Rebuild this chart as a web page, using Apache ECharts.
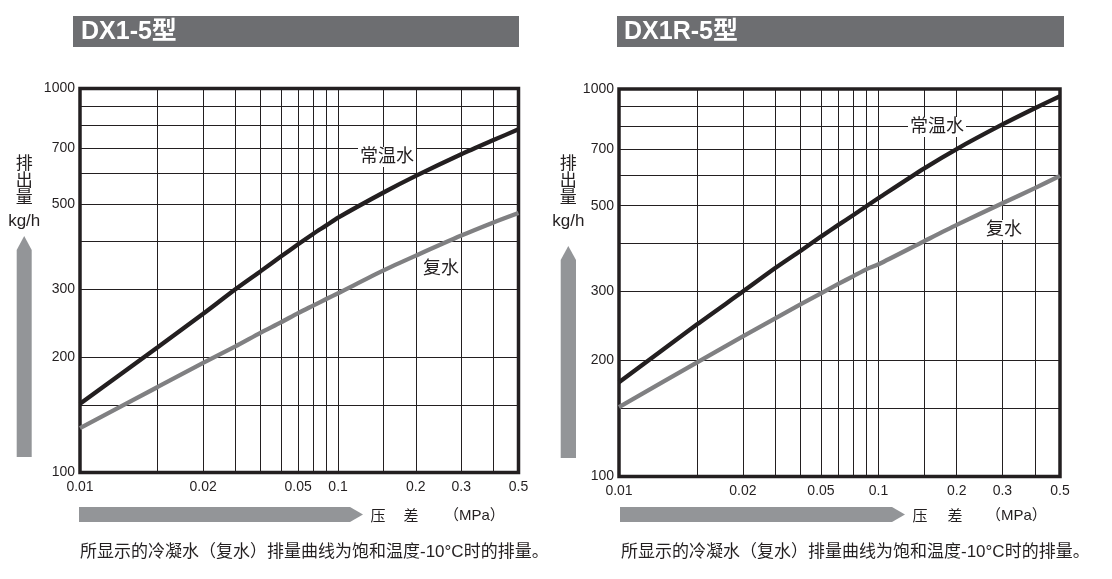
<!DOCTYPE html>
<html>
<head>
<meta charset="utf-8">
<script src="https://cdn.jsdelivr.net/npm/echarts@6/dist/echarts.min.js"></script>
<style>
html,body{margin:0;padding:0;background:#fff;}
#chart{width:1112px;height:579px;}
</style>
</head>
<body>
<div id="chart"></div>
<script>
// ---------- data ----------
const pressure = [0.01,0.02,0.03,0.04,0.05,0.06,0.07,0.08,0.09,0.1,0.15,0.2,0.3,0.4,0.5];
const dx1Normal      = [151,212,259,300,334,365,393,418,440,461,536,592,674,734,783];
const dx1Condensate  = [130.5,167,193,213,231,246,260,272,283,293,336,367,414,448,474];
const dx1rNormal     = [175,247,300,345,382,416,446,473,499,523,624,700,810,892,958];
const dx1rCondensate = [151,197,230,256,278,297,314,329,343,353,405,446,507,555,597];

const xGridValues = [0.01,0.02,0.03,0.04,0.05,0.06,0.07,0.08,0.09,0.1,0.15,0.2,0.3,0.4,0.5];
const xTickLabels = ['0.01','0.02','0.05','0.1','0.2','0.3','0.5'];
const xTickAtLeft  = [0.01,0.03,0.07,0.1,0.2,0.3,0.5];
const xTickAtRight = [0.01,0.03,0.06,0.1,0.2,0.3,0.5];
const yGridValues = [100,150,200,300,400,500,600,700,800,900,1000];
const yTickValues = [100,200,300,500,700,1000];
const yTickLabels = ['100','200','300','500','700','1000'];

const titles = ['DX1-5型','DX1R-5型'];
const normalName = '常温水';
const condName = '复水';
const yName1 = '排\n出\n量';
const yName2 = 'kg/h';
const xName = ['压','差','（MPa）'];
const caption = '所显示的冷凝水（复水）排量曲线为饱和温度-10°C时的排量。';

// ---------- helpers ----------
const FONT = "'Liberation Sans', 'Noto Sans CJK SC', sans-serif";
const INK = '#231f20';
const GRAY_LINE = '#808082';
const ARROW = '#939598';
const BAR = '#6d6e71';

function gridLines(xTickAt) {
  const items = [];
  xGridValues.forEach(v => {
    const idx = xTickAt.indexOf(v);
    const it = {xAxis: v};
    if (idx >= 0) it.label = {show: true, position: 'start', formatter: xTickLabels[idx], distance: 8};
    items.push(it);
  });
  yGridValues.forEach(v => {
    const idx = yTickValues.indexOf(v);
    const it = {yAxis: v};
    if (idx >= 0) it.label = {show: true, position: 'start', formatter: yTickLabels[idx], distance: 5};
    items.push(it);
  });
  return items;
}

function makeSeries(i, normal, cond, xTickAt) {
  const toPts = arr => pressure.map((p, k) => [p, arr[k]]);
  return [
    {
      type: 'line', xAxisIndex: i, yAxisIndex: i, data: toPts(normal),
      smooth: 0.25, symbol: 'none', z: 3,
      lineStyle: {color: INK, width: 4.3},
      markLine: {
        silent: true, z: 1, symbol: ['none','none'], animation: false,
        lineStyle: {color: INK, width: 1, type: 'solid'},
        label: {show: false, color: INK, fontSize: 14, fontFamily: FONT},
        emphasis: {disabled: true},
        data: gridLines(xTickAt)
      }
    },
    {
      type: 'line', xAxisIndex: i, yAxisIndex: i, data: toPts(cond),
      smooth: 0.25, symbol: 'none', z: 3,
      lineStyle: {color: GRAY_LINE, width: 4.3}
    }
  ];
}

const grids = [
  {left: 80, top: 88.5, width: 438.5, height: 384},
  {left: 619, top: 89, width: 441, height: 387.5}
];

function axisX(i) {
  return {type: 'log', logBase: 10, gridIndex: i, min: 0.01, max: 0.5,
    axisLine: {show: false}, axisTick: {show: false}, axisLabel: {show: false}, splitLine: {show: false}};
}
function axisY(i) {
  return {type: 'log', logBase: 10, gridIndex: i, min: 100, max: 1000,
    axisLine: {show: false}, axisTick: {show: false}, axisLabel: {show: false}, splitLine: {show: false}};
}

function txt(x, y, text, size, style) {
  return {
    type: 'text', x: x, y: y, z: 20, silent: true,
    style: Object.assign({text: text, fill: INK, font: size + 'px ' + FONT, align: 'center', verticalAlign: 'middle'}, style || {})
  };
}

function panelGraphics(t, yArrow, xArrow, xNamePos, labels) {
  const out = [];
  out.push({type: 'rect', shape: {x: t.x, y: 16, width: t.w, height: 31}, style: {fill: BAR}, silent: true});
  out.push({type: 'text', x: t.tx, y: 32, silent: true,
    style: {text: t.text, fill: '#fff', font: 'bold 25px ' + FONT, align: 'left', verticalAlign: 'middle'}});
  out.push({type: 'text', x: yArrow.cx, y: 181, silent: true,
    style: {text: yName1, fill: INK, font: '17px ' + FONT, align: 'center', verticalAlign: 'middle', lineHeight: 17}});
  out.push(txt(yArrow.cx, 221, yName2, 17));
  out.push({type: 'polygon', silent: true, style: {fill: ARROW},
    shape: {points: [[yArrow.l, yArrow.b],[yArrow.l, yArrow.t + 14],[yArrow.cx, yArrow.t],[yArrow.r, yArrow.t + 14],[yArrow.r, yArrow.b]]}});
  out.push({type: 'polygon', silent: true, style: {fill: ARROW},
    shape: {points: [[xArrow.l, 507],[xArrow.e, 507],[xArrow.tip, 514.5],[xArrow.e, 522],[xArrow.l, 522]]}});
  out.push(txt(xNamePos[0], 517, xName[0], 15));
  out.push(txt(xNamePos[1], 517, xName[1], 15));
  out.push(txt(xNamePos[2], 516, xName[2], 15, {align: 'left'}));
  out.push(txt(xArrow.l + 1, 552, caption, 17, {align: 'left'}));
  labels.forEach(l => out.push(txt(l[0], l[1], l[2], 18, {backgroundColor: '#fff', padding: [1, 2]})));
  return out;
}

const graphic = [].concat(
  panelGraphics({x: 73, w: 446, tx: 81, text: titles[0]},
    {l: 16.7, r: 31.7, cx: 24.2, t: 236, b: 457},
    {l: 79, e: 350, tip: 363}, [378, 411, 444],
    [[387, 157, normalName], [441, 269, condName]]),
  panelGraphics({x: 617, w: 447, tx: 624, text: titles[1]},
    {l: 560.7, r: 576, cx: 568.3, t: 246, b: 458},
    {l: 620, e: 892, tip: 905}, [920, 955, 986],
    [[937, 127, normalName], [1004, 230, condName]])
);

const chart = echarts.init(document.getElementById('chart'), null, {renderer: 'canvas'});
chart.setOption({
  animation: false,
  backgroundColor: '#fff',
  textStyle: {fontFamily: FONT},
  grid: grids.map(g => Object.assign({show: true, borderColor: INK, borderWidth: 3.5, backgroundColor: 'transparent', containLabel: false}, g)),
  xAxis: [axisX(0), axisX(1)],
  yAxis: [axisY(0), axisY(1)],
  series: [].concat(makeSeries(0, dx1Normal, dx1Condensate, xTickAtLeft), makeSeries(1, dx1rNormal, dx1rCondensate, xTickAtRight)),
  graphic: graphic
});
</script>
</body>
</html>
